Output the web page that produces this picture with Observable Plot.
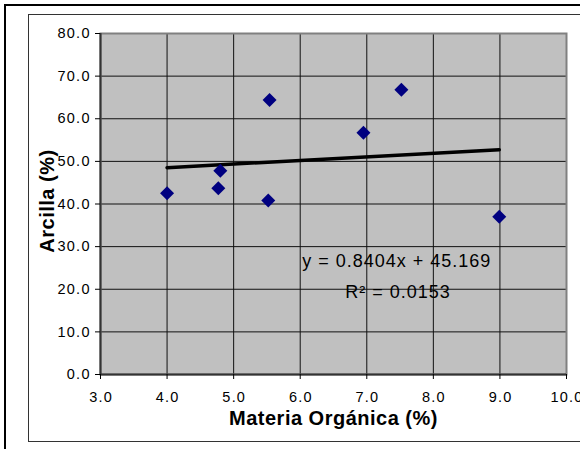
<!DOCTYPE html>
<html>
<head>
<meta charset="utf-8">
<script src="https://cdn.jsdelivr.net/npm/d3@7"></script>
<script src="https://cdn.jsdelivr.net/npm/@observablehq/plot@0.6"></script>
<style>
  html, body { margin: 0; padding: 0; background: #fff; }
  #wrap { position: relative; width: 580px; height: 449px; overflow: hidden; background: #fff; }
  #chart svg { position: absolute; left: 0; top: 0; }
  .outer { position: absolute; left: 4px; top: 4px; width: 700px; height: 600px; border: 2px solid #000; pointer-events: none; }
  .inner { position: absolute; left: 28px; top: 14px; width: 700px; height: 426px; border: 1px solid #333; pointer-events: none; }
</style>
</head>
<body>
<div id="wrap">
  <div id="chart"></div>
  <div class="outer"></div>
  <div class="inner"></div>
</div>
<script>
// Data
const materiaOrganica = [4.0, 4.77, 4.8, 5.52, 5.54, 6.95, 7.52, 8.99];
const arcilla         = [42.5, 43.7, 47.8, 40.8, 64.4, 56.7, 66.8, 37.0];
const xTicks = [3, 4, 5, 6, 7, 8, 9, 10];
const yTicks = [0, 10, 20, 30, 40, 50, 60, 70, 80];
const slope = 0.8404;
const intercept = 45.169;
const rSquared = 0.0153;
const xTitle = "Materia Orgánica (%)";
const yTitle = "Arcilla (%)";

const points = materiaOrganica.map((x, i) => ({x, y: arcilla[i]}));
const xMin = d3.min(materiaOrganica), xMax = d3.max(materiaOrganica);
const trend = [xMin, xMax].map(x => ({x, y: slope * x + intercept}));
const eqText = [
  {x: 7.45, y: 26.6, label: `y = ${slope}x + ${intercept}`},
  {x: 7.47, y: 19.2, label: `R² = ${rSquared}`}
];
const fmt = d => d.toFixed(1);
const xMinDomain = xTicks[0], yMinDomain = yTicks[0];

const chart = Plot.plot({
  width: 580,
  height: 449,
  marginLeft: 100,
  marginRight: 14,
  marginTop: 33,
  marginBottom: 75,
  style: {fontFamily: "'Liberation Sans', Arial, sans-serif", fontSize: "14px", color: "#000", background: "transparent"},
  x: {domain: [3, 10], label: null},
  y: {domain: [0, 80], label: null},
  marks: [
    Plot.frame({fill: "#c0c0c0", stroke: null}),
    Plot.gridX(xTicks, {stroke: "#111", strokeOpacity: 1, strokeWidth: 1}),
    Plot.gridY(yTicks, {stroke: "#111", strokeOpacity: 1, strokeWidth: 1}),
    Plot.frame({stroke: "#808080", strokeWidth: 2}),
    Plot.ruleX([3], {stroke: "#333", strokeWidth: 2}),
    Plot.ruleY([0], {stroke: "#333", strokeWidth: 2}),
    Plot.axisX({ticks: xTicks, tickFormat: () => "", tickSize: 5, label: null, stroke: "#000"}),
    Plot.axisY({ticks: yTicks, tickFormat: () => "", tickSize: 5, label: null, stroke: "#000"}),
    Plot.line(trend, {x: "x", y: "y", stroke: "#000", strokeWidth: 3.5}),
    Plot.dot(points, {x: "x", y: "y", symbol: "diamond2", r: 6.3, fill: "#000080", stroke: null}),
    Plot.text(eqText, {x: "x", y: "y", text: "label", fontSize: 18, fill: "#000"}),
    Plot.text(xTicks, {x: d => d, y: yMinDomain, text: fmt, lineAnchor: "top", dy: 17, dx: 0.6, fontSize: 14.5, fill: "#000"}),
    Plot.text(yTicks, {x: xMinDomain, y: d => d, text: fmt, textAnchor: "end", dx: -9.7, fontSize: 14.5, fill: "#000"}),
    Plot.text([xTitle], {frameAnchor: "bottom", dy: 50, fontSize: 20, fontWeight: "bold", fill: "#000"}),
    Plot.text([yTitle], {frameAnchor: "left", textAnchor: "middle", dx: -53, dy: -3, rotate: -90, fontSize: 20, fontWeight: "bold", fill: "#000"})
  ]
});
// letter spacing to mimic the spreadsheet's text rendering
const textGroups = chart.querySelectorAll('g[aria-label="text"]');
const spacings = ["1px", "1.2px", "1.3px", "0.5px", "0.5px"];
textGroups.forEach((g, i) => g.style.letterSpacing = spacings[i] || "0");
document.getElementById("chart").appendChild(chart);
</script>
</body>
</html>
